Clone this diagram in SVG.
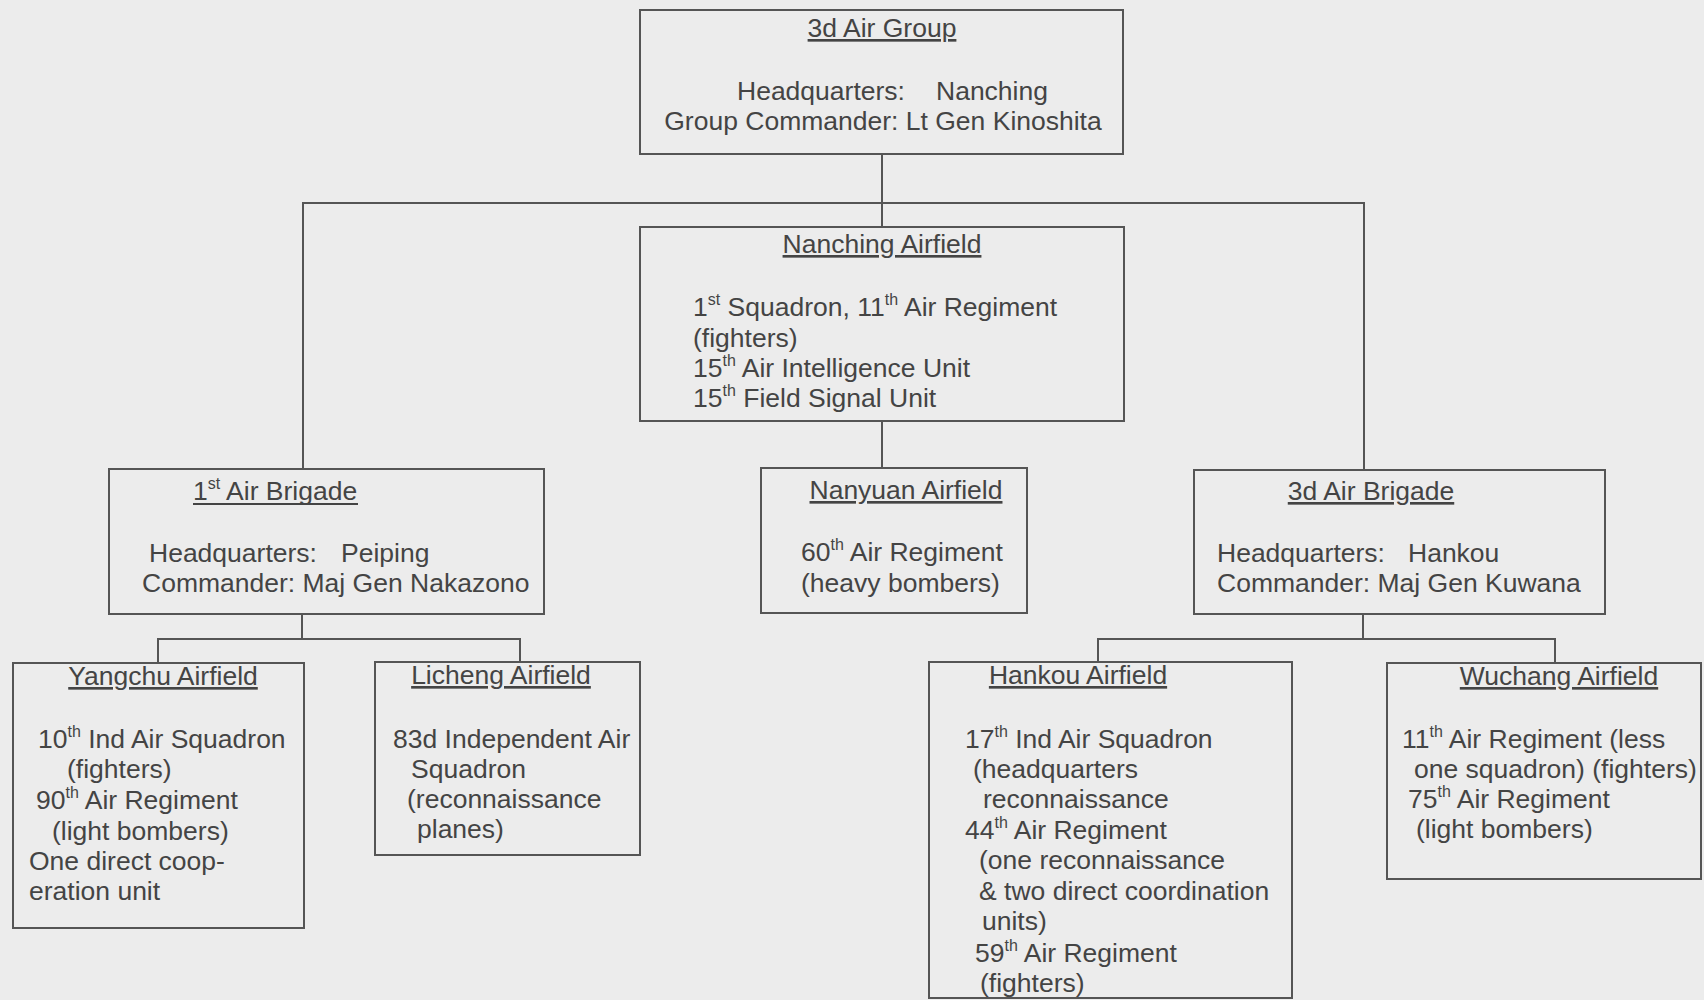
<svg xmlns="http://www.w3.org/2000/svg" width="1704" height="1000" viewBox="0 0 1704 1000">
<style>
text{font-family:"Liberation Sans",Arial,sans-serif;font-size:26.5px;fill:#444}
.t{text-anchor:middle;text-decoration:underline}
.box{fill:none;stroke:#555;stroke-width:2}
.c{fill:none;stroke:#555;stroke-width:2}
.s{font-size:16px}
.u{stroke:#444;stroke-width:2}
</style>
<rect width="1704" height="1000" fill="#ececec"/>
<g id="connectors">
<path class="c" d="M882,154V227"/>
<path class="c" d="M303,469V203H1364V470"/>
<path class="c" d="M882,421V468"/>
<path class="c" d="M302,614V639M158,663V639H520V662"/>
<path class="c" d="M1363,614V639M1098,662V639H1555V663"/>
</g>
<g id="air-group">
<rect class="box" x="640" y="10" width="483" height="144"/>
<text class="t" x="882" y="37">3d Air Group</text>
<text y="100"><tspan x="737">Headquarters:</tspan><tspan x="936">Nanching</tspan></text>
<text x="883" y="130" text-anchor="middle">Group Commander: Lt Gen Kinoshita</text>
</g>
<g id="nanching">
<rect class="box" x="640" y="227" width="484" height="194"/>
<text class="t" x="882" y="253">Nanching Airfield</text>
<text x="693" y="316">1<tspan class="s" dy="-11">st</tspan><tspan dy="11"> Squadron, 11</tspan><tspan class="s" dy="-11">th</tspan><tspan dy="11"> Air Regiment</tspan></text>
<text x="693" y="347">(fighters)</text>
<text x="693" y="377">15<tspan class="s" dy="-11">th</tspan><tspan dy="11"> Air Intelligence Unit</tspan></text>
<text x="693" y="407">15<tspan class="s" dy="-11">th</tspan><tspan dy="11"> Field Signal Unit</tspan></text>
</g>
<g id="brigade1">
<rect class="box" x="109" y="469" width="435" height="145"/>
<text x="193" y="500">1<tspan class="s" dy="-11">st</tspan><tspan dy="11"> Air Brigade</tspan></text>
<line class="u" x1="193" y1="504" x2="358" y2="504"/>
<text y="562"><tspan x="149">Headquarters:</tspan><tspan x="341">Peiping</tspan></text>
<text x="142" y="592">Commander: Maj Gen Nakazono</text>
</g>
<g id="nanyuan">
<rect class="box" x="761" y="468" width="266" height="145"/>
<text class="t" x="906" y="499">Nanyuan Airfield</text>
<text x="801" y="561">60<tspan class="s" dy="-11">th</tspan><tspan dy="11"> Air Regiment</tspan></text>
<text x="801" y="592">(heavy bombers)</text>
</g>
<g id="brigade3">
<rect class="box" x="1194" y="470" width="411" height="144"/>
<text class="t" x="1371" y="500">3d Air Brigade</text>
<text y="562"><tspan x="1217">Headquarters:</tspan><tspan x="1408">Hankou</tspan></text>
<text x="1217" y="592">Commander: Maj Gen Kuwana</text>
</g>
<g id="yangchu">
<rect class="box" x="13" y="663" width="291" height="265"/>
<text class="t" x="163" y="685">Yangchu Airfield</text>
<text x="38" y="748">10<tspan class="s" dy="-11">th</tspan><tspan dy="11"> Ind Air Squadron</tspan></text>
<text x="67" y="778">(fighters)</text>
<text x="36" y="809">90<tspan class="s" dy="-11">th</tspan><tspan dy="11"> Air Regiment</tspan></text>
<text x="52" y="840">(light bombers)</text>
<text x="29" y="870">One direct coop-</text>
<text x="29" y="900">eration unit</text>
</g>
<g id="licheng">
<rect class="box" x="375" y="662" width="265" height="193"/>
<text class="t" x="501" y="684">Licheng Airfield</text>
<text x="393" y="748">83d Independent Air</text>
<text x="411" y="778">Squadron</text>
<text x="407" y="808">(reconnaissance</text>
<text x="417" y="838">planes)</text>
</g>
<g id="hankou">
<rect class="box" x="929" y="662" width="363" height="336"/>
<text class="t" x="1078" y="684">Hankou Airfield</text>
<text x="965" y="748">17<tspan class="s" dy="-11">th</tspan><tspan dy="11"> Ind Air Squadron</tspan></text>
<text x="973" y="778">(headquarters</text>
<text x="983" y="808">reconnaissance</text>
<text x="965" y="839">44<tspan class="s" dy="-11">th</tspan><tspan dy="11"> Air Regiment</tspan></text>
<text x="979" y="869">(one reconnaissance</text>
<text x="979" y="900">&amp; two direct coordination</text>
<text x="982" y="930">units)</text>
<text x="975" y="962">59<tspan class="s" dy="-11">th</tspan><tspan dy="11"> Air Regiment</tspan></text>
<text x="980" y="992">(fighters)</text>
</g>
<g id="wuchang">
<rect class="box" x="1387" y="663" width="314" height="216"/>
<text class="t" x="1559" y="685">Wuchang Airfield</text>
<text x="1402" y="748">11<tspan class="s" dy="-11">th</tspan><tspan dy="11"> Air Regiment (less</tspan></text>
<text x="1414" y="778">one squadron) (fighters)</text>
<text x="1408" y="808">75<tspan class="s" dy="-11">th</tspan><tspan dy="11"> Air Regiment</tspan></text>
<text x="1416" y="838">(light bombers)</text>
</g>
</svg>
